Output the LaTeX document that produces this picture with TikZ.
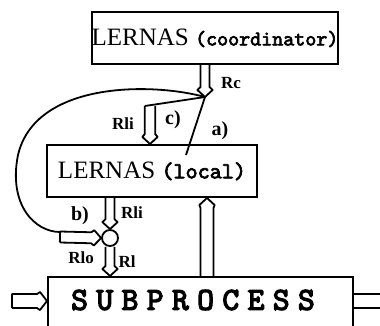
\documentclass[tikz,border=0pt]{standalone}
\usepackage{fontspec}
\setmainfont{Liberation Serif}
\newfontfamily\slab{lmmono10-regular}[Extension=.otf, FakeBold=3]
\newfontfamily\slabs{lmmono10-regular}[Extension=.otf, FakeBold=4]
\usetikzlibrary{calc}
\newcommand\spl[1]{\makebox[12.6pt]{#1}}
\tikzset{
  blk/.style={draw, line width=1pt, rectangle, inner sep=0pt},
  wire/.style={line width=0.9pt, line join=round},
  % hollow arrow outline: half width, head length, barb position, barb half width
  hw/.store in=\hw, hl/.store in=\hl, hk/.store in=\hk, ho/.store in=\ho,
  hw=2.25pt, hl=5pt, hk=3.5pt, ho=3.8pt,
  hollow/.style={wire, to path={
    let \p1=(\tikztostart), \p2=(\tikztotarget), \n1={atan2(\y2-\y1,\x2-\x1)} in
    ($(\p1)+(\n1+90:\hw)$) -- ($(\p2)+(\n1+180:\hl)+(\n1+90:\hw)$)
    -- ($(\p2)+(\n1+180:\hk)+(\n1+90:\ho)$) -- (\p2)
    -- ($(\p2)+(\n1+180:\hk)+(\n1-90:\ho)$) -- ($(\p2)+(\n1+180:\hl)+(\n1-90:\hw)$)
    -- ($(\p1)+(\n1-90:\hw)$)}},
  hollowc/.style={wire, to path={
    let \p1=(\tikztostart), \p2=(\tikztotarget), \n1={atan2(\y2-\y1,\x2-\x1)} in
    ($(\p1)+(\n1-90:\hw)$) -- ($(\p1)+(\n1+90:\hw)$) -- ($(\p2)+(\n1+180:\hl)+(\n1+90:\hw)$)
    -- ($(\p2)+(\n1+180:\hk)+(\n1+90:\ho)$) -- (\p2)
    -- ($(\p2)+(\n1+180:\hk)+(\n1-90:\ho)$) -- ($(\p2)+(\n1+180:\hl)+(\n1-90:\hw)$)
    -- ($(\p1)+(\n1-90:\hw)$)}},
  lab/.style={font=\bfseries\fontsize{8.5}{9}\selectfont, inner sep=0pt},
  tag/.style={font=\bfseries\fontsize{10}{11}\selectfont, inner sep=0pt},
  junction/.style={draw, circle, line width=0.9pt, minimum size=8pt, inner sep=0pt, fill=white},
}
\begin{document}
\begin{tikzpicture}[x=0.5pt, y=-0.5pt]
  \clip (0,0) rectangle (380,326);
  \fill[white] (0,0) rectangle (380,326);

  % blocks
  \node[blk, minimum width=120pt, minimum height=26pt] (coord) at (215,38)
    {\fontsize{12.5}{14}\selectfont LERNAS {\slab\fontsize{10.5}{12}\selectfont(coordinator)}};
  \node[blk, minimum width=105pt, minimum height=26pt] (local) at (152,171)
    {\fontsize{12.5}{14}\selectfont LERNAS {\slab\fontsize{11.5}{12}\selectfont(local)}};
  \node[blk, minimum width=152.5pt, minimum height=34pt] (sub) at (200.5,311) {};
  \node[inner sep=0pt, font=\slabs\fontsize{16}{17}\selectfont] (subtxt) at (193,300)
    {\spl{S}\spl{U}\spl{B}\spl{P}\spl{R}\spl{O}\spl{C}\spl{E}\spl{S}\spl{S}};
  \node[junction] (junc) at (110,238) {};

  % free ends
  \coordinate (cTip) at (205,97);
  \coordinate (cTop) at (150,106);
  \coordinate (cCap) at (144.8,106);
  \coordinate (aEnd) at (186,155);
  \coordinate (bTail) at (60,237);
  \coordinate (inL) at (12,301);
  \coordinate (outR) at (400,301);

  % coordinator output
  \draw[hollow] (coord.south -| cTip) to (cTip);
  % c) branch
  \draw[wire] (cTip) -- (cCap);
  \draw[hollow, hw=2.6pt] (cTop) to (cTop |- local.north);
  % a) branch
  \draw[wire] (cTip) -- (aEnd);
  % b) branch around the local block
  \draw[wire] (cTip) .. controls (150,82) and (35,82) .. (18,155)
                     .. controls (8,205) and (35,232) .. ($(bTail)+(0,-5)$);
  \draw[hollowc, hw=2.75pt] (bTail) to (junc.west);

  % local to subprocess through the junction
  \draw[hollow] (local.south -| junc) to (junc.north);
  \draw[hollow] (junc.south) to (junc |- sub.north);
  % feedback from subprocess
  \draw[hollow, hw=3.25pt] (sub.north -| 207,0) to (local.south -| 207,0);

  % process input and output
  \draw[hollowc, hw=3.5pt, ho=4.5pt] (inL) to (inL -| sub.west);
  \draw[wire] ($(sub.east |- outR)+(0,-7)$) -- ($(outR)+(0,-7)$)
              ($(sub.east |- outR)+(0,7)$) -- ($(outR)+(0,7)$);

  % labels
  \node[lab] at (231,83) {Rc};
  \node[lab] at (123,124) {Rli};
  \node[tag] at (173,120) {c)};
  \node[tag] at (220,131) {a)};
  \node[tag] at (80,216) {b)};
  \node[lab] at (132,213) {Rli};
  \node[lab] at (81,258) {Rlo};
  \node[lab] at (127,262) {Rl};
\end{tikzpicture}
\end{document}
